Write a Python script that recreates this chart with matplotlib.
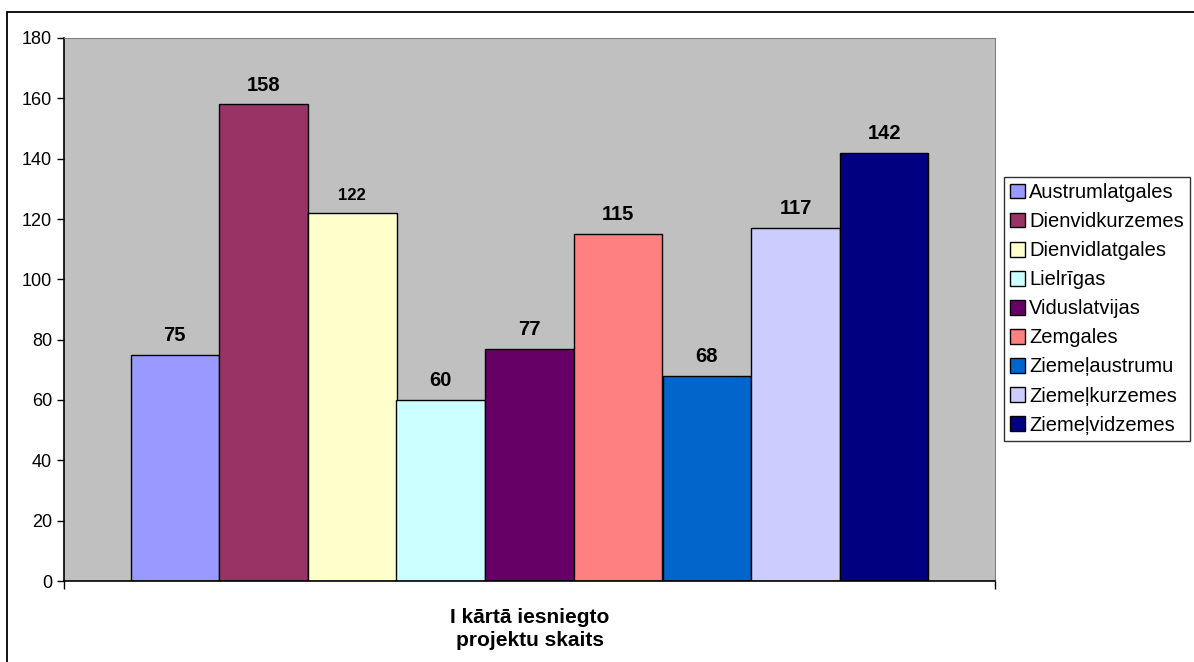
import matplotlib
matplotlib.use("Agg")
from matplotlib import pyplot as plt
from matplotlib.patches import Rectangle

plt.rcParams['font.family'] = ['Liberation Sans', 'DejaVu Sans']

regions = ["Austrumlatgales", "Dienvidkurzemes", "Dienvidlatgales", "Lielrīgas",
           "Viduslatvijas", "Zemgales", "Ziemeļaustrumu", "Ziemeļkurzemes", "Ziemeļvidzemes"]
values = [75, 158, 122, 60, 77, 115, 68, 117, 142]
colors = ["#9999FF", "#993366", "#FFFFCC", "#CCFFFF", "#660066",
          "#FF8080", "#0066CC", "#CCCCFF", "#000080"]
xlabel = "I kārtā iesniegto\nprojektu skaits"

fig = plt.figure(figsize=(11.94, 6.62), dpi=100)
ax = fig.add_axes([64/1194, 81/662, 931/1194, 543/662])
ax.set_facecolor("#C0C0C0")

# outer chart border (runs off the right and bottom edges)
fig.patches.append(Rectangle((7/1194, -10/662), 1200/1194, 660/662, transform=fig.transFigure,
                             fill=False, edgecolor="black", linewidth=1.3))

for i in range(len(values)):
    ax.bar(i, values[i], width=1.0, color=colors[i], edgecolor="black",
           linewidth=1.0, label=regions[i])
    fs = 12 if values[i] == 122 else 14.5
    ax.annotate(str(values[i]), (i, values[i]), xytext=(0, 7), textcoords="offset points",
                ha="center", va="bottom", fontsize=fs, fontweight="bold")

ax.set_xlim(-1.25, 9.25)
ax.set_ylim(0, 180)
ax.set_yticks(range(0, 181, 20))
ax.tick_params(axis="y", labelsize=13, direction="out", length=5, width=1)
ax.set_xticks([-1.25, 9.25])
ax.set_xticklabels(["", ""])
ax.tick_params(axis="x", direction="out", length=6, width=1)
ax.set_xlabel(xlabel, fontsize=15, fontweight="bold", labelpad=10, linespacing=1.25)

for s in ["top", "right"]:
    ax.spines[s].set_color("#808080")
for s in ["left", "bottom"]:
    ax.spines[s].set_color("black")
    ax.spines[s].set_linewidth(1.2)

leg = fig.legend(loc="upper left", bbox_to_anchor=(1004/1194, 1 - 177/662), fontsize=14.5,
                 frameon=True, fancybox=False, edgecolor="black", borderpad=0.3,
                 handlelength=0.75, handleheight=0.75, handletextpad=0.2, labelspacing=0.5,
                 borderaxespad=0)
leg.get_frame().set_linewidth(1.0)

fig.savefig("out.png", dpi=100)
